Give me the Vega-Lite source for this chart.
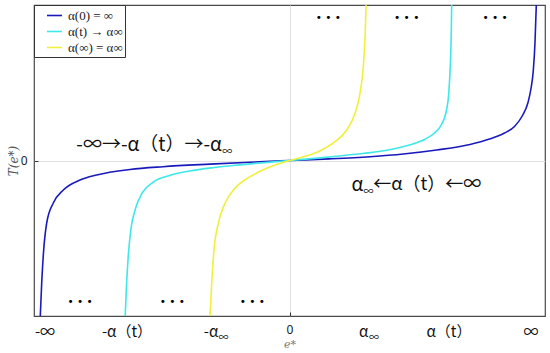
{
  "$schema": "https://vega.github.io/schema/vega-lite/v6.json",
  "width": 511,
  "height": 311,
  "autosize": "none",
  "padding": {"left": 34, "top": 5, "right": 5, "bottom": 37},
  "config": {
    "view": {"stroke": "#4a4a4a", "strokeWidth": 1.2},
    "font": "Noto Sans CJK SC"
  },
  "encoding": {
    "x": {
      "field": "x", "type": "quantitative",
      "scale": {"domain": [-255.5, 255.5], "nice": false, "zero": false},
      "axis": {
        "values": [0], "grid": true, "gridColor": "#e2e2e2", "domain": false,
        "tickSize": -4, "tickColor": "#333", "labelPadding": 12, "labelFontSize": 12,
        "labelColor": "#222", "labelFont": "Noto Sans",
        "title": "e*", "titleFont": "DejaVu Serif", "titleFontStyle": "italic",
        "titleFontWeight": "normal", "titleFontSize": 11, "titleColor": "#777", "titlePadding": 3
      }
    },
    "y": {
      "field": "y", "type": "quantitative",
      "scale": {"domain": [-155.5, 155.5], "nice": false, "zero": false},
      "axis": {
        "values": [0], "grid": true, "gridColor": "#e2e2e2", "domain": false,
        "tickSize": -4, "tickColor": "#333", "labelPadding": 11, "labelFontSize": 12,
        "labelColor": "#222", "labelFont": "Noto Sans",
        "title": "T(e*)", "titleFont": "DejaVu Serif", "titleFontStyle": "italic",
        "titleFontWeight": "normal", "titleFontSize": 12, "titleColor": "#555", "titlePadding": 0
      }
    }
  },
  "layer": [
    {
      "data": {"values": [
        {"series": "α(0) = ∞", "x": -249.2, "y": -155.5},
        {"series": "α(0) = ∞", "x": -247.8, "y": -122.5},
        {"series": "α(0) = ∞", "x": -246, "y": -92},
        {"series": "α(0) = ∞", "x": -242.8, "y": -62.5},
        {"series": "α(0) = ∞", "x": -236.2, "y": -42.5},
        {"series": "α(0) = ∞", "x": -226.2, "y": -29.5},
        {"series": "α(0) = ∞", "x": -209.5, "y": -19.5},
        {"series": "α(0) = ∞", "x": -192.8, "y": -14.5},
        {"series": "α(0) = ∞", "x": -159.5, "y": -9},
        {"series": "α(0) = ∞", "x": -126.5, "y": -6.2},
        {"series": "α(0) = ∞", "x": -79.5, "y": -3.6},
        {"series": "α(0) = ∞", "x": -39.5, "y": -1.7},
        {"series": "α(0) = ∞", "x": 0, "y": 0},
        {"series": "α(0) = ∞", "x": 39.5, "y": 1.6},
        {"series": "α(0) = ∞", "x": 80.5, "y": 3.8},
        {"series": "α(0) = ∞", "x": 113.8, "y": 6.5},
        {"series": "α(0) = ∞", "x": 147.2, "y": 10.5},
        {"series": "α(0) = ∞", "x": 180.5, "y": 16},
        {"series": "α(0) = ∞", "x": 200, "y": 21.5},
        {"series": "α(0) = ∞", "x": 215, "y": 27.5},
        {"series": "α(0) = ∞", "x": 225, "y": 34},
        {"series": "α(0) = ∞", "x": 233, "y": 45},
        {"series": "α(0) = ∞", "x": 238.5, "y": 58},
        {"series": "α(0) = ∞", "x": 241.5, "y": 72},
        {"series": "α(0) = ∞", "x": 243.8, "y": 90},
        {"series": "α(0) = ∞", "x": 245.5, "y": 118},
        {"series": "α(0) = ∞", "x": 246.8, "y": 155.5},
        {"series": "α(t) → α∞", "x": -164.3, "y": -155.5},
        {"series": "α(t) → α∞", "x": -163, "y": -125},
        {"series": "α(t) → α∞", "x": -161.2, "y": -95},
        {"series": "α(t) → α∞", "x": -158.5, "y": -68},
        {"series": "α(t) → α∞", "x": -154, "y": -48},
        {"series": "α(t) → α∞", "x": -147, "y": -32},
        {"series": "α(t) → α∞", "x": -136, "y": -21.5},
        {"series": "α(t) → α∞", "x": -120, "y": -15},
        {"series": "α(t) → α∞", "x": -100, "y": -10.5},
        {"series": "α(t) → α∞", "x": -75, "y": -7},
        {"series": "α(t) → α∞", "x": -50, "y": -4.4},
        {"series": "α(t) → α∞", "x": -25, "y": -2.1},
        {"series": "α(t) → α∞", "x": 0, "y": 0},
        {"series": "α(t) → α∞", "x": 25, "y": 2.1},
        {"series": "α(t) → α∞", "x": 50, "y": 4.5},
        {"series": "α(t) → α∞", "x": 75, "y": 7.2},
        {"series": "α(t) → α∞", "x": 100, "y": 10.8},
        {"series": "α(t) → α∞", "x": 120, "y": 15.5},
        {"series": "α(t) → α∞", "x": 135, "y": 21},
        {"series": "α(t) → α∞", "x": 145, "y": 27.5},
        {"series": "α(t) → α∞", "x": 152, "y": 36},
        {"series": "α(t) → α∞", "x": 156.5, "y": 48},
        {"series": "α(t) → α∞", "x": 159.3, "y": 68},
        {"series": "α(t) → α∞", "x": 160.8, "y": 95},
        {"series": "α(t) → α∞", "x": 161.7, "y": 125},
        {"series": "α(t) → α∞", "x": 162.2, "y": 155.5},
        {"series": "α(∞) = α∞", "x": -79.5, "y": -155.5},
        {"series": "α(∞) = α∞", "x": -77.8, "y": -122.8},
        {"series": "α(∞) = α∞", "x": -75.5, "y": -89.5},
        {"series": "α(∞) = α∞", "x": -71.2, "y": -62.8},
        {"series": "α(∞) = α∞", "x": -64.5, "y": -42.8},
        {"series": "α(∞) = α∞", "x": -54.5, "y": -27.8},
        {"series": "α(∞) = α∞", "x": -39.5, "y": -16.2},
        {"series": "α(∞) = α∞", "x": -22.8, "y": -7.8},
        {"series": "α(∞) = α∞", "x": 0, "y": 0},
        {"series": "α(∞) = α∞", "x": 12.2, "y": 3.2},
        {"series": "α(∞) = α∞", "x": 28.8, "y": 8.8},
        {"series": "α(∞) = α∞", "x": 45.5, "y": 18.8},
        {"series": "α(∞) = α∞", "x": 57.2, "y": 30.5},
        {"series": "α(∞) = α∞", "x": 65.5, "y": 47.2},
        {"series": "α(∞) = α∞", "x": 70.5, "y": 67.2},
        {"series": "α(∞) = α∞", "x": 73.8, "y": 93.8},
        {"series": "α(∞) = α∞", "x": 75.6, "y": 125},
        {"series": "α(∞) = α∞", "x": 76.6, "y": 155.5}
      ]},
      "mark": {"type": "line", "interpolate": "monotone", "strokeWidth": 1.6, "clip": true},
      "encoding": {
        "color": {
          "field": "series", "type": "nominal",
          "scale": {"domain": ["α(0) = ∞", "α(t) → α∞", "α(∞) = α∞"], "range": ["#1a1abc", "#3ee8e8", "#f0f03c"]},
          "legend": {
            "orient": "top-left", "offset": 0, "title": null, "padding": 2,
            "strokeColor": "#333", "fillColor": "white", "symbolType": "stroke",
            "symbolSize": 225, "symbolStrokeWidth": 1.6, "symbolOffset": 10,
            "labelFont": "Liberation Serif", "labelFontSize": 13, "labelColor": "#222",
            "labelOffset": 5, "rowPadding": 0, "cornerRadius": 0
          }
        }
      }
    },
    {
      "data": {"values": [
        {"x": -244.5, "y": -171.5, "text": "-∞"},
        {"x": -162.5, "y": -171.5, "text": "-α（t）"},
        {"x": 159.5, "y": -171.5, "text": "α（t）"},
        {"x": 241.5, "y": -171.5, "text": "∞"}
      ]},
      "mark": {"type": "text", "fontSize": 15, "color": "#111", "clip": false, "align": "center", "baseline": "middle"},
      "encoding": {"text": {"field": "text"}}
    },
    {
      "data": {"values": [
        {"x": -71.2, "y": -171.5, "text": "-α"},
        {"x": 78.8, "y": -171.5, "text": "α"}
      ]},
      "mark": {"type": "text", "fontSize": 15, "color": "#111", "clip": false, "align": "right", "baseline": "middle"},
      "encoding": {"text": {"field": "text"}}
    },
    {
      "data": {"values": [
        {"x": -67.5, "y": 15.5, "text": "-∞→-α（t）→-α"},
        {"x": 73.8, "y": -24.5, "text": "α"}
      ]},
      "mark": {"type": "text", "fontSize": 19, "color": "#111", "clip": false, "align": "right", "baseline": "middle"},
      "encoding": {"text": {"field": "text"}}
    },
    {
      "data": {"values": [
        {"x": 83.8, "y": -24.5, "text": "←α（t）←∞"}
      ]},
      "mark": {"type": "text", "fontSize": 18, "color": "#111", "clip": false, "align": "left", "baseline": "middle"},
      "encoding": {"text": {"field": "text"}}
    },
    {
      "data": {"values": [
        {"x": -71, "y": -177.5, "text": "∞"},
        {"x": 79.5, "y": -177.5, "text": "∞"},
        {"x": -67.3, "y": 8.8, "text": "∞"},
        {"x": 74, "y": -31.2, "text": "∞"}
      ]},
      "mark": {"type": "text", "fontSize": 10, "color": "#111", "clip": false, "align": "left", "baseline": "middle"},
      "encoding": {"text": {"field": "text"}}
    },
    {
      "data": {"values": [
        {"x": -209.5, "y": -141.2, "text": "• • •"},
        {"x": -117.2, "y": -141.2, "text": "• • •"},
        {"x": -37.2, "y": -141.2, "text": "• • •"},
        {"x": 38.8, "y": 142.2, "text": "• • •"},
        {"x": 117.2, "y": 142.2, "text": "• • •"},
        {"x": 205.5, "y": 142.2, "text": "• • •"}
      ]},
      "mark": {"type": "text", "fontSize": 10.5, "font": "DejaVu Sans", "color": "#000", "clip": false, "align": "center", "baseline": "middle"},
      "encoding": {"text": {"field": "text"}}
    }
  ]
}
